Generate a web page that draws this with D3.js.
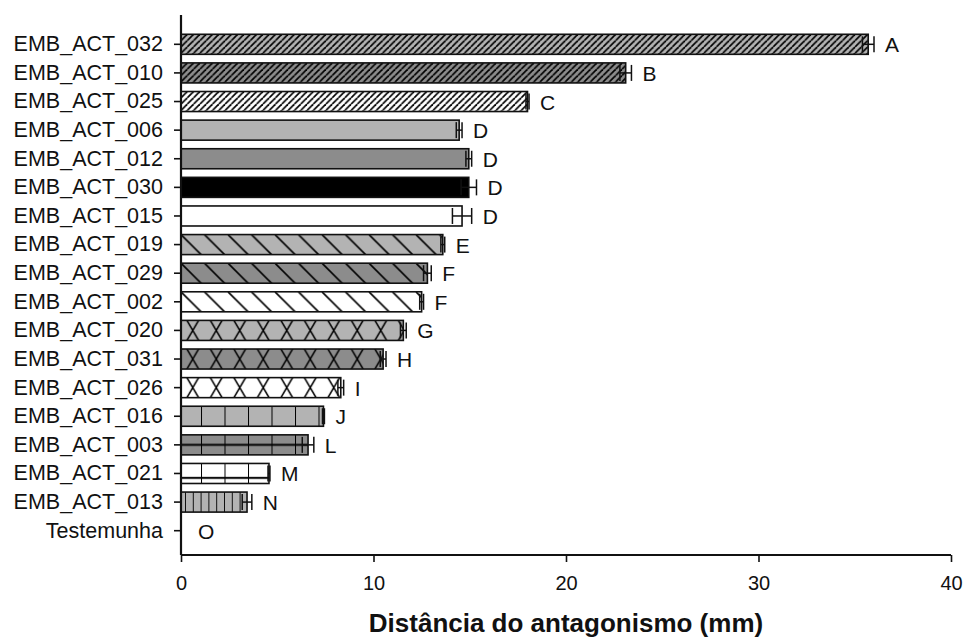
<!DOCTYPE html>
<html>
<head>
    <meta charset="utf-8">
    <title>Distância do antagonismo</title>
    <script src="https://d3js.org/d3.v7.min.js"></script>
    <style>
        html, body {
            margin: 0;
            background: white;
        }
        text {
            font-family: "Liberation Sans", Arial, sans-serif;
            fill: #111;
        }
    </style>
</head>
<body>
    <svg id="svg"></svg>
    <script>
        const categories = [
            "EMB_ACT_032", "EMB_ACT_010", "EMB_ACT_025", "EMB_ACT_006", "EMB_ACT_012",
            "EMB_ACT_030", "EMB_ACT_015", "EMB_ACT_019", "EMB_ACT_029", "EMB_ACT_002",
            "EMB_ACT_020", "EMB_ACT_031", "EMB_ACT_026", "EMB_ACT_016", "EMB_ACT_003",
            "EMB_ACT_021", "EMB_ACT_013", "Testemunha"
        ];
        const values = [35.7, 23.1, 18.0, 14.45, 14.95, 14.95, 14.6, 13.6, 12.8, 12.5,
            11.55, 10.5, 8.3, 7.4, 6.6, 4.57, 3.43, 0];
        const errors = [0.3, 0.3, 0.08, 0.15, 0.15, 0.4, 0.5, 0.1, 0.2, 0.1,
            0.15, 0.15, 0.15, 0.05, 0.3, 0.05, 0.25, 0];
        const letters = ["A", "B", "C", "D", "D", "D", "D", "E", "F", "F",
            "G", "H", "I", "J", "L", "M", "N", "O"];
        // fill pattern kind and base shade of each bar
        const patterns = ["fwd", "fwd", "fwd", "solid", "solid", "solid", "solid", "back", "back", "back",
            "cross", "cross", "cross", "vlines", "grid", "grid", "vdense", "solid"];
        const shades = ["light", "dark", "white", "light", "dark", "black", "white", "light", "dark", "white",
            "light", "dark", "white", "light", "dark", "white", "light", "white"];
        const xTicks = [0, 10, 20, 30, 40];

        const width = 965, height = 644;
        const margins = { top: 15, left: 181, right: 14, bottom: 89 };
        const shadeColor = { light: "#b3b3b3", dark: "#8c8c8c", white: "#ffffff", black: "#000000" };

        const data = categories.map((c, i) => ({
            name: c, value: values[i], err: errors[i], letter: letters[i],
            pattern: patterns[i], shade: shades[i], id: "pat" + i
        }));

        const svg = d3.select("#svg")
            .attr("width", width)
            .attr("height", height);

        const x = d3.scaleLinear()
            .domain([0, 40])
            .range([margins.left, width - margins.right]);

        const y = d3.scaleBand()
            .domain(categories)
            .range([30, 545])
            .paddingInner(0.3)
            .paddingOuter(0.15);

        const bh = y.bandwidth();

        // one pattern per bar, anchored at the bar's corner
        const defs = svg.append("defs");
        data.forEach(d => {
            const fill = shadeColor[d.shade];
            const y0 = y(d.name);
            let w = 10, h = 10;
            if (d.pattern === "fwd") { w = 6.3; h = 6.3; }
            if (d.pattern === "back") { w = 23.5; h = 23.5; }
            if (d.pattern === "cross") { w = 23.5; h = bh * 2; }
            if (d.pattern === "vlines") { w = 23.5; h = bh; }
            if (d.pattern === "grid") { w = 23.5; h = bh; }
            if (d.pattern === "vdense") { w = 7.8; h = bh; }

            const p = defs.append("pattern")
                .attr("id", d.id)
                .attr("patternUnits", "userSpaceOnUse")
                .attr("x", x(0))
                .attr("y", y0)
                .attr("width", w)
                .attr("height", h);

            p.append("rect").attr("width", w).attr("height", h).attr("fill", fill);

            const line = (x1, y1, x2, y2, sw) => p.append("line")
                .attr("x1", x1).attr("y1", y1).attr("x2", x2).attr("y2", y2)
                .attr("stroke", "#000").attr("stroke-width", sw);

            if (d.pattern === "fwd") {
                line(0, h, w, 0, 1.7);
                line(-w, h, 0, 0, 1.7);
                line(w, h, 2 * w, 0, 1.7);
            } else if (d.pattern === "back") {
                line(0, 0, w, h, 1.6);
                line(-w, 0, 0, h, 1.6);
                line(w, 0, 2 * w, h, 1.6);
            } else if (d.pattern === "cross") {
                p.attr("y", y0 - bh / 2);
                line(0, 0, w, h, 1.6);
                line(w, 0, 0, h, 1.6);
            } else if (d.pattern === "vlines") {
                p.attr("x", x(0) + 20);
                line(0, 0, 0, h, 2);
            } else if (d.pattern === "grid") {
                p.attr("x", x(0) + 20);
                line(0, 0, 0, h, 2);
                const hy = d.shade === "dark" ? h / 2 : h * 0.72;
                line(-1, hy, w + 1, hy, 2);
            } else if (d.pattern === "vdense") {
                p.attr("x", x(0) + 4);
                line(0, 0, 0, h, 1.8);
            }
        });

        // bars
        svg.append("g")
            .selectAll("rect")
            .data(data.filter(d => d.value > 0))
            .enter()
            .append("rect")
            .attr("x", x(0))
            .attr("y", d => y(d.name))
            .attr("width", d => x(d.value) - x(0))
            .attr("height", bh)
            .attr("fill", d => `url(#${d.id})`)
            .attr("stroke", "#111")
            .attr("stroke-width", 1.6);

        // error bars
        const eb = svg.append("g")
            .attr("stroke", "#111")
            .attr("stroke-width", 1.5)
            .selectAll("g")
            .data(data.filter(d => d.value > 0))
            .enter()
            .append("g");

        eb.append("line")
            .attr("x1", d => x(d.value - d.err))
            .attr("x2", d => x(d.value + d.err))
            .attr("y1", d => y(d.name) + bh / 2)
            .attr("y2", d => y(d.name) + bh / 2);

        [-1, 1].forEach(s => {
            eb.append("line")
                .attr("x1", d => x(d.value + s * d.err))
                .attr("x2", d => x(d.value + s * d.err))
                .attr("y1", d => y(d.name) + bh / 2 - 8)
                .attr("y2", d => y(d.name) + bh / 2 + 8);
        });

        // letters
        svg.append("g")
            .selectAll("text")
            .data(data)
            .enter()
            .append("text")
            .attr("x", d => x(d.value + d.err) + (d.value > 0 ? 11 : 17))
            .attr("y", d => y(d.name) + bh / 2)
            .attr("dy", "0.38em")
            .style("font-size", "21px")
            .text(d => d.letter);

        // axes
        const xAxis = svg.append("g")
            .attr("transform", `translate(0, ${height - margins.bottom})`)
            .call(d3.axisBottom(x).tickValues(xTicks).tickSize(7).tickPadding(14));

        const yAxis = svg.append("g")
            .attr("transform", `translate(${margins.left}, 0)`)
            .call(d3.axisLeft(y).tickSize(7).tickPadding(11));

        [xAxis, yAxis].forEach(a => {
            a.select(".domain").attr("stroke", "#111").attr("stroke-width", 2.2);
            a.selectAll(".tick line").attr("stroke", "#111").attr("stroke-width", 1.6);
            a.selectAll(".tick text")
                .style("font-family", "'Liberation Sans', Arial, sans-serif")
                .style("font-size", "20px")
                .attr("fill", "#111");
        });
        yAxis.selectAll(".tick text").style("font-size", "21.5px");

        xAxis.select(".domain").attr("d", `M${x(0)},0H${x(40)}`);
        yAxis.select(".domain").attr("d", `M0,${margins.top}V${height - margins.bottom}`);

        svg.append("text")
            .attr("x", (x(0) + x(40)) / 2)
            .attr("y", 632)
            .style("text-anchor", "middle")
            .style("font-weight", "bold")
            .style("font-size", "26px")
            .text("Distância do antagonismo (mm)");
    </script>
</body>
</html>
